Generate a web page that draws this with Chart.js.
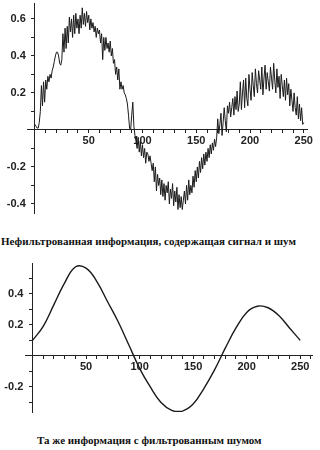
<!DOCTYPE html>
<html>
<head>
<meta charset="utf-8">
<script src="https://cdn.jsdelivr.net/npm/chart.js@4/dist/chart.umd.min.js"></script>
<style>
  body { margin: 0; width: 320px; height: 450px; background: #fff; position: relative; overflow: hidden; }
  canvas { position: absolute; left: 0; }
  #c1 { top: 0; }
  #c2 { top: 250px; }
  .cap { position: absolute; font-family: "Liberation Serif", serif; font-weight: bold; font-size: 11px; color: #111; white-space: nowrap; }
  #cap1 { left: 1px; top: 235px; }
  #cap2 { left: 37px; top: 434px; }
</style>
</head>
<body>
<canvas id="c1" width="320" height="222"></canvas>
<div class="cap" id="cap1">Нефильтрованная информация, содержащая сигнал и шум</div>
<canvas id="c2" width="320" height="170"></canvas>
<div class="cap" id="cap2">Та же информация с фильтрованным шумом</div>
<script>
// noisy signal, one value per sample 0..250
var noisy = [
  0.03, 0.02, 0.01, 0.01, 0.04, 0.10, 0.24, 0.13, 0.26, 0.15,
  0.27, 0.22, 0.29, 0.26, 0.30, 0.28, 0.32, 0.34, 0.37, 0.40,
  0.42, 0.42, 0.40, 0.36, 0.35, 0.38, 0.52, 0.42, 0.55, 0.44,
  0.56, 0.47, 0.61, 0.53, 0.60, 0.50, 0.62, 0.52, 0.63, 0.55,
  0.60, 0.52, 0.62, 0.55, 0.66, 0.57, 0.63, 0.56, 0.64, 0.58,
  0.62, 0.54, 0.60, 0.55, 0.58, 0.53, 0.56, 0.50, 0.55, 0.52,
  0.54, 0.47, 0.52, 0.38, 0.50, 0.43, 0.50, 0.44, 0.47, 0.42,
  0.48, 0.40, 0.44, 0.36, 0.38, 0.30, 0.34, 0.27, 0.33, 0.22,
  0.26, 0.22, 0.24, 0.20, 0.19, 0.17, 0.14, 0.08, 0.01, 0.00,
  0.08, 0.15, 0.02, -0.03, -0.06, -0.10, -0.04, -0.12, -0.06, -0.14,
  -0.08, -0.15, -0.10, -0.18, -0.12, -0.13, -0.17, -0.14, -0.18, -0.22,
  -0.18, -0.28, -0.20, -0.33, -0.24, -0.30, -0.26, -0.35, -0.27, -0.36,
  -0.29, -0.38, -0.30, -0.34, -0.28, -0.40, -0.32, -0.37, -0.29, -0.41,
  -0.33, -0.39, -0.31, -0.43, -0.35, -0.42, -0.36, -0.43, -0.38, -0.33,
  -0.40, -0.30, -0.38, -0.27, -0.35, -0.30, -0.34, -0.25, -0.31, -0.22,
  -0.28, -0.20, -0.26, -0.17, -0.23, -0.15, -0.21, -0.13, -0.19, -0.12,
  -0.17, -0.10, -0.15, -0.08, -0.13, -0.07, -0.11, -0.05, -0.09, -0.04,
  0.06, -0.02, 0.03, 0.09, -0.03, 0.04, 0.12, 0.05, -0.01, 0.13,
  0.09, 0.15, 0.07, 0.12, 0.17, 0.08, 0.18, 0.11, 0.21, 0.10,
  0.14, 0.26, 0.11, 0.20, 0.27, 0.12, 0.28, 0.17, 0.13, 0.30,
  0.22, 0.16, 0.31, 0.24, 0.18, 0.33, 0.25, 0.20, 0.32, 0.27,
  0.22, 0.34, 0.19, 0.28, 0.35, 0.22, 0.31, 0.26, 0.21, 0.34,
  0.28, 0.22, 0.36, 0.27, 0.20, 0.33, 0.23, 0.29, 0.17, 0.30,
  0.24, 0.18, 0.27, 0.16, 0.28, 0.19, 0.25, 0.13, 0.22, 0.16,
  0.10, 0.20, 0.12, 0.08, 0.18, 0.06, 0.14, 0.05, 0.12, 0.03,
  0.04
];

// filtered signal
var filtX = [0, 10, 20, 30, 40, 50, 60, 70, 80, 90, 100, 110, 120, 130, 140,
             150, 160, 170, 180, 190, 200, 210, 220, 230, 240, 250];
var filtY = [0.10, 0.19, 0.33, 0.47, 0.572, 0.565, 0.48, 0.35, 0.22, 0.07, -0.08, -0.20, -0.30, -0.35, -0.355,
             -0.31, -0.21, -0.09, 0.05, 0.18, 0.28, 0.32, 0.31, 0.26, 0.18, 0.10];

var xMajor = [50, 100, 150, 200, 250];
var yMajor1 = [-0.4, -0.2, 0.2, 0.4, 0.6];
var yMajor2 = [-0.2, 0.2, 0.4];

var tickFont = { family: 'Liberation Sans', size: 11, weight: 'bold' };
var ink = '#222';

function isMajor(list, v) {
  return list.some(function (m) { return Math.abs(m - v) < 1e-6; });
}

function makeOptions(xMin, xMax, yMin, yMax, yMajor, pad) {
  return {
    responsive: false,
    animation: false,
    layout: { padding: pad },
    plugins: { legend: { display: false }, tooltip: { enabled: false } },
    elements: { point: { radius: 0 } },
    scales: {
      x: {
        type: 'linear',
        min: xMin, max: xMax,
        position: { y: 0 },
        afterFit: function (s) { s.height = 0; s.paddingLeft = 0; s.paddingRight = 0; },
        border: { color: ink, width: 1 },
        grid: { drawOnChartArea: false, tickLength: 3, tickColor: ink },
        ticks: {
          stepSize: 10, autoSkip: false, includeBounds: false, maxRotation: 0, padding: 1,
          color: ink, font: tickFont,
          callback: function (v) { return isMajor(xMajor, v) ? String(v) : ''; }
        }
      },
      y: {
        type: 'linear',
        min: yMin, max: yMax,
        position: { x: 0 },
        afterFit: function (s) { s.width = 0; s.paddingTop = 0; s.paddingBottom = 0; },
        border: { color: ink, width: 1 },
        grid: { drawOnChartArea: false, tickLength: 3, tickColor: ink },
        ticks: {
          stepSize: 0.1, autoSkip: false, includeBounds: false,
          color: ink, font: tickFont,
          // trailing spaces keep the label off the axis line
          callback: function (v) { return isMajor(yMajor, v) ? v.toFixed(1) + '   ' : ''; }
        }
      }
    }
  };
}

new Chart(document.getElementById('c1'), {
  type: 'line',
  data: {
    datasets: [{
      data: noisy.map(function (v, i) { return { x: i, y: v }; }),
      borderColor: '#1a1a1a',
      borderWidth: 1,
      tension: 0
    }]
  },
  options: makeOptions(-7.4, 253, -0.449, 0.686, yMajor1, { left: 27, right: 13, top: 3, bottom: 9 })
});

new Chart(document.getElementById('c2'), {
  type: 'line',
  data: {
    datasets: [{
      data: filtX.map(function (x, i) { return { x: x, y: filtY[i] }; }),
      borderColor: '#1a1a1a',
      borderWidth: 1.4,
      tension: 0.4
    }]
  },
  options: makeOptions(-7, 261, -0.361, 0.598, yMajor2, { left: 25, right: 8, top: 13, bottom: 8 })
});
</script>
</body>
</html>
